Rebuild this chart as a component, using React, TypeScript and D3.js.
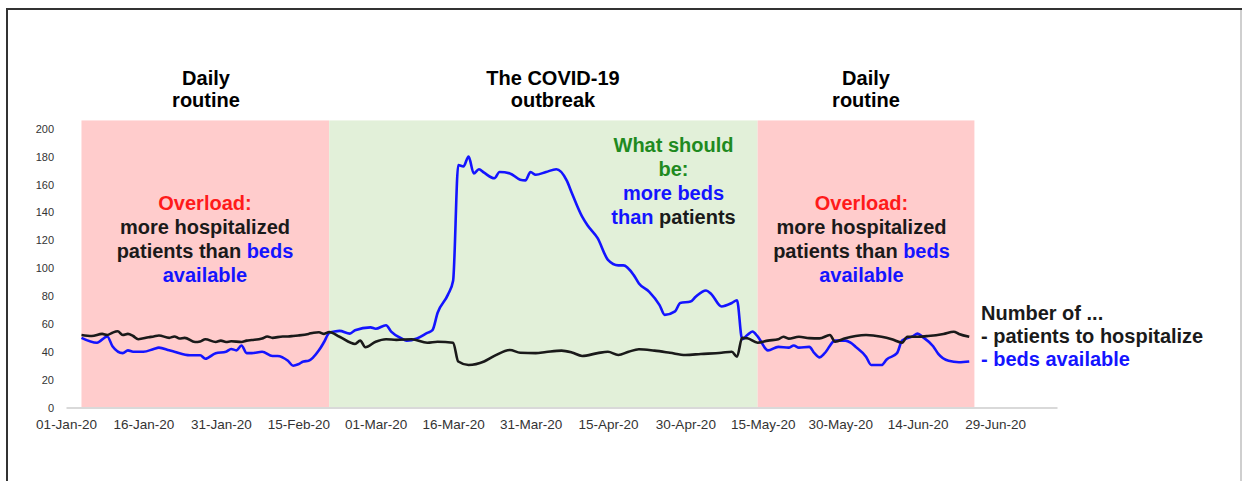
import React, { useEffect, useRef } from "react";
import * as d3 from "d3";

// beds available (blue) and patients to hospitalize (black)
const bedDates = [
  "2020-01-04", "2020-01-07", "2020-01-09", "2020-01-10", "2020-01-12", "2020-01-13", "2020-01-14",
  "2020-01-16", "2020-01-18", "2020-01-19", "2020-01-21", "2020-01-22", "2020-01-25", "2020-01-27",
  "2020-01-28", "2020-01-30", "2020-02-01", "2020-02-02", "2020-02-03", "2020-02-04", "2020-02-05",
  "2020-02-06", "2020-02-08", "2020-02-10", "2020-02-11", "2020-02-13", "2020-02-14", "2020-02-15",
  "2020-02-16", "2020-02-17", "2020-02-19", "2020-02-20", "2020-02-21", "2020-02-22", "2020-02-23",
  "2020-02-25", "2020-02-26", "2020-02-29", "2020-03-01", "2020-03-03", "2020-03-04", "2020-03-06",
  "2020-03-07", "2020-03-09", "2020-03-11", "2020-03-12", "2020-03-13", "2020-03-15", "2020-03-16",
  "2020-03-17", "2020-03-18", "2020-03-19", "2020-03-20", "2020-03-21", "2020-03-22", "2020-03-24",
  "2020-03-25", "2020-03-27", "2020-03-29", "2020-03-30", "2020-03-31", "2020-04-01", "2020-04-03",
  "2020-04-05", "2020-04-07", "2020-04-08", "2020-04-10", "2020-04-11", "2020-04-13", "2020-04-15",
  "2020-04-17", "2020-04-18", "2020-04-20", "2020-04-21", "2020-04-23", "2020-04-25", "2020-04-26",
  "2020-04-28", "2020-04-29", "2020-05-01", "2020-05-02", "2020-05-04", "2020-05-05", "2020-05-07",
  "2020-05-09", "2020-05-10", "2020-05-11", "2020-05-12", "2020-05-13", "2020-05-14", "2020-05-16",
  "2020-05-18", "2020-05-20", "2020-05-21", "2020-05-22", "2020-05-24", "2020-05-25", "2020-05-26",
  "2020-05-27", "2020-05-29", "2020-05-31", "2020-06-01", "2020-06-02", "2020-06-04", "2020-06-05",
  "2020-06-07", "2020-06-08", "2020-06-10", "2020-06-11", "2020-06-13", "2020-06-14", "2020-06-15",
  "2020-06-17", "2020-06-18", "2020-06-20", "2020-06-22", "2020-06-24",
];
const bedValues = [
  50, 46.5, 51, 44, 39, 41, 40,
  40, 42, 43, 41, 40, 37.5, 37.5,
  35, 39, 40, 42, 41, 44.5, 39,
  39, 40, 37, 37, 33.5, 30, 31,
  33, 33.5, 41, 47, 53.5, 54.5, 55,
  53, 55.5, 57.5, 56.5, 59, 54.5, 49.5,
  48, 49.5, 53.5, 55.5, 68, 81, 91,
  174, 173, 180, 168, 171, 168.5, 164.5,
  169, 168, 163.5, 163, 169, 167, 169,
  171, 163, 154, 137, 131, 121.5, 106,
  102, 102, 95, 89, 83, 73.5, 66.5,
  69, 75, 76, 79.5, 84, 81.5, 72.5,
  75, 77, 49, 52, 54.5, 51, 41,
  43.5, 43, 44.5, 43, 43.5, 39, 36,
  39, 48, 48, 46.5, 43.5, 36.5, 30.5,
  30.5, 34.5, 39, 48, 51, 53, 50.5,
  44, 38.5, 33.5, 32.5, 33,
];

const patientDates = [
  "2020-01-04", "2020-01-06", "2020-01-08", "2020-01-09", "2020-01-10", "2020-01-11", "2020-01-12",
  "2020-01-13", "2020-01-14", "2020-01-15", "2020-01-17", "2020-01-18", "2020-01-19", "2020-01-21",
  "2020-01-22", "2020-01-23", "2020-01-24", "2020-01-26", "2020-01-27", "2020-01-28", "2020-01-30",
  "2020-01-31", "2020-02-01", "2020-02-02", "2020-02-04", "2020-02-05", "2020-02-06", "2020-02-08",
  "2020-02-09", "2020-02-10", "2020-02-12", "2020-02-13", "2020-02-14", "2020-02-15", "2020-02-17",
  "2020-02-18", "2020-02-19", "2020-02-20", "2020-02-21", "2020-02-23", "2020-02-26", "2020-02-27",
  "2020-02-28", "2020-03-01", "2020-03-03", "2020-03-05", "2020-03-08", "2020-03-11", "2020-03-13",
  "2020-03-16", "2020-03-17", "2020-03-19", "2020-03-22", "2020-03-24", "2020-03-27", "2020-03-29",
  "2020-04-01", "2020-04-03", "2020-04-06", "2020-04-08", "2020-04-10", "2020-04-13", "2020-04-15",
  "2020-04-17", "2020-04-19", "2020-04-21", "2020-04-24", "2020-04-27", "2020-04-30", "2020-05-03",
  "2020-05-07", "2020-05-09", "2020-05-10", "2020-05-11", "2020-05-12", "2020-05-14", "2020-05-16",
  "2020-05-18", "2020-05-19", "2020-05-20", "2020-05-22", "2020-05-24", "2020-05-26", "2020-05-28",
  "2020-05-29", "2020-05-31", "2020-06-02", "2020-06-04", "2020-06-07", "2020-06-09", "2020-06-11",
  "2020-06-12", "2020-06-14", "2020-06-16", "2020-06-19", "2020-06-21", "2020-06-22", "2020-06-24",
];
const patientValues = [
  52, 51.3, 52.8, 52, 53.7, 54.7, 52,
  52.8, 51.3, 49, 50.4, 51, 51.7, 50,
  51, 49.5, 50, 47, 47.4, 49, 47,
  48, 47, 47.5, 47, 48, 48.4, 49.5,
  51, 50, 51, 51, 51.3, 51.7, 52.8,
  53.7, 54, 52.8, 54.2, 50.8, 45.6, 48,
  43.2, 47.2, 49, 48.5, 49, 46.5, 47.2,
  46.5, 33, 30.5, 33, 37, 41.3, 39.3,
  39, 39.8, 40.8, 39.5, 37, 39, 40,
  37.7, 40, 41.8, 40.8, 39.3, 37.7, 38.4,
  39.3, 40, 36.5, 50, 49.7, 46.5, 48,
  49, 50.8, 49.4, 50.8, 49.8, 49.6, 52,
  47.2, 49.7, 51.3, 52, 50.8, 49, 46.5,
  50.8, 50.8, 51.3, 52.8, 54.4, 52.8, 50.8,
];

// background periods
const periodStarts = ["2020-01-04", "2020-02-21", "2020-05-14"];
const periodEnds = ["2020-02-21", "2020-05-14", "2020-06-25"];
const periodKinds = ["overload", "outbreak", "overload"];
const periodTop = 206;

const yTicks = [0, 20, 40, 60, 80, 100, 120, 140, 160, 180, 200];
const xTickLabels = [
  "01-Jan-20", "16-Jan-20", "31-Jan-20", "15-Feb-20", "01-Mar-20", "16-Mar-20", "31-Mar-20",
  "15-Apr-20", "30-Apr-20", "15-May-20", "30-May-20", "14-Jun-20", "29-Jun-20",
];
const xDomain = ["2020-01-01", "2020-07-11"];

const FONT = "'Liberation Sans', Arial, Helvetica, sans-serif";
const BLUE = "#1414ff";
const BLACK = "#1a1a1a";
const RED = "#ff1a1a";
const GREEN = "#1f8a1f";
const periodFill: Record<string, string> = { overload: "#ffcccc", outbreak: "#e2f0d9" };

const parseDay = d3.timeParse("%Y-%m-%d");
const parseTick = d3.timeParse("%d-%b-%y");

export default function App() {
  const xAxisRef = useRef<SVGGElement>(null);
  const yAxisRef = useRef<SVGGElement>(null);

  const W = 1242;
  const H = 481;

  const x = d3.scaleTime()
    .domain(xDomain.map((d) => parseDay(d) as Date))
    .range([66, 1057]);
  const y = d3.scaleLinear().domain([0, 200]).range([407.5, 128.8]);

  const beds = bedDates.map((d, i) => ({ date: parseDay(d) as Date, value: bedValues[i] }));
  const patients = patientDates.map((d, i) => ({ date: parseDay(d) as Date, value: patientValues[i] }));

  const line = d3.line<{ date: Date; value: number }>()
    .x((d) => x(d.date))
    .y((d) => y(d.value))
    .curve(d3.curveMonotoneX);

  useEffect(() => {
    const xAxis = d3.axisBottom(x)
      .tickValues(xTickLabels.map((t) => parseTick(t) as Date))
      .tickFormat(d3.timeFormat("%d-%b-%y") as any)
      .tickSize(0)
      .tickSizeOuter(0)
      .tickPadding(12);
    const gx = d3.select(xAxisRef.current!);
    gx.call(xAxis as any);
    gx.select(".domain").attr("stroke", "#d9d9d9").attr("stroke-width", 2);
    gx.selectAll("text").attr("fill", "#333").style("font-size", "13.5px").style("font-family", FONT);

    const yAxis = d3.axisLeft(y).tickValues(yTicks).tickSize(0).tickPadding(8);
    const gy = d3.select(yAxisRef.current!);
    gy.call(yAxis as any);
    gy.select(".domain").remove();
    gy.selectAll("text").attr("fill", "#333").style("font-size", "11px").style("font-family", FONT);
  }, []);

  const big = { fontFamily: FONT, fontSize: 20, fontWeight: 700 } as const;

  return (
    <svg width={W} height={H} style={{ position: "absolute", left: 0, top: 0, background: "#fff" }}>
      {/* frame */}
      <line x1={7} y1={9} x2={W} y2={9} stroke="#333" strokeWidth={2} />
      <line x1={7} y1={8} x2={7} y2={H} stroke="#333" strokeWidth={2} />
      <line x1={1241} y1={10} x2={1241} y2={H} stroke="#cfcfcf" strokeWidth={2} />

      {periodStarts.map((s, i) => (
        <rect
          key={i}
          x={x(parseDay(s) as Date)}
          width={x(parseDay(periodEnds[i]) as Date) - x(parseDay(s) as Date)}
          y={y(periodTop)}
          height={y(0) - y(periodTop)}
          fill={periodFill[periodKinds[i]]}
        />
      ))}

      <g ref={xAxisRef} transform={`translate(0,${y(0)})`} />
      <g ref={yAxisRef} transform="translate(62,0)" />

      <path d={line(beds) || ""} fill="none" stroke={BLUE} strokeWidth={2.6} strokeLinejoin="round" />
      <path d={line(patients) || ""} fill="none" stroke={BLACK} strokeWidth={2.6} strokeLinejoin="round" />

      {/* headers */}
      <g {...big} textAnchor="middle" fill="#000" dominantBaseline="central">
        <text x={206} y={78}>Daily</text>
        <text x={206} y={100}>routine</text>
        <text x={553} y={78}>The COVID-19</text>
        <text x={553} y={100}>outbreak</text>
        <text x={866} y={78}>Daily</text>
        <text x={866} y={100}>routine</text>
      </g>

      {/* overload notes */}
      {[205, 861.5].map((cx) => (
        <g key={cx} {...big} textAnchor="middle" dominantBaseline="central">
          <text x={cx} y={203} fill={RED}>Overload:</text>
          <text x={cx} y={227} fill={BLACK}>more hospitalized</text>
          <text x={cx} y={251} fill={BLACK}>
            patients than <tspan fill={BLUE}>beds</tspan>
          </text>
          <text x={cx} y={275} fill={BLUE}>available</text>
        </g>
      ))}

      {/* outbreak note */}
      <g {...big} textAnchor="middle" dominantBaseline="central">
        <text x={673.5} y={145} fill={GREEN}>What should</text>
        <text x={673.5} y={169} fill={GREEN}>be:</text>
        <text x={673.5} y={193} fill={BLUE}>more beds</text>
        <text x={673.5} y={217} fill={BLUE}>
          than <tspan fill={BLACK}>patients</tspan>
        </text>
      </g>

      {/* legend */}
      <g {...big} dominantBaseline="central">
        <text x={981} y={313} fill={BLACK}>Number of ...</text>
        <text x={981} y={336} fill={BLACK}>- patients to hospitalize</text>
        <text x={981} y={359} fill={BLUE}>- beds available</text>
      </g>
    </svg>
  );
}
